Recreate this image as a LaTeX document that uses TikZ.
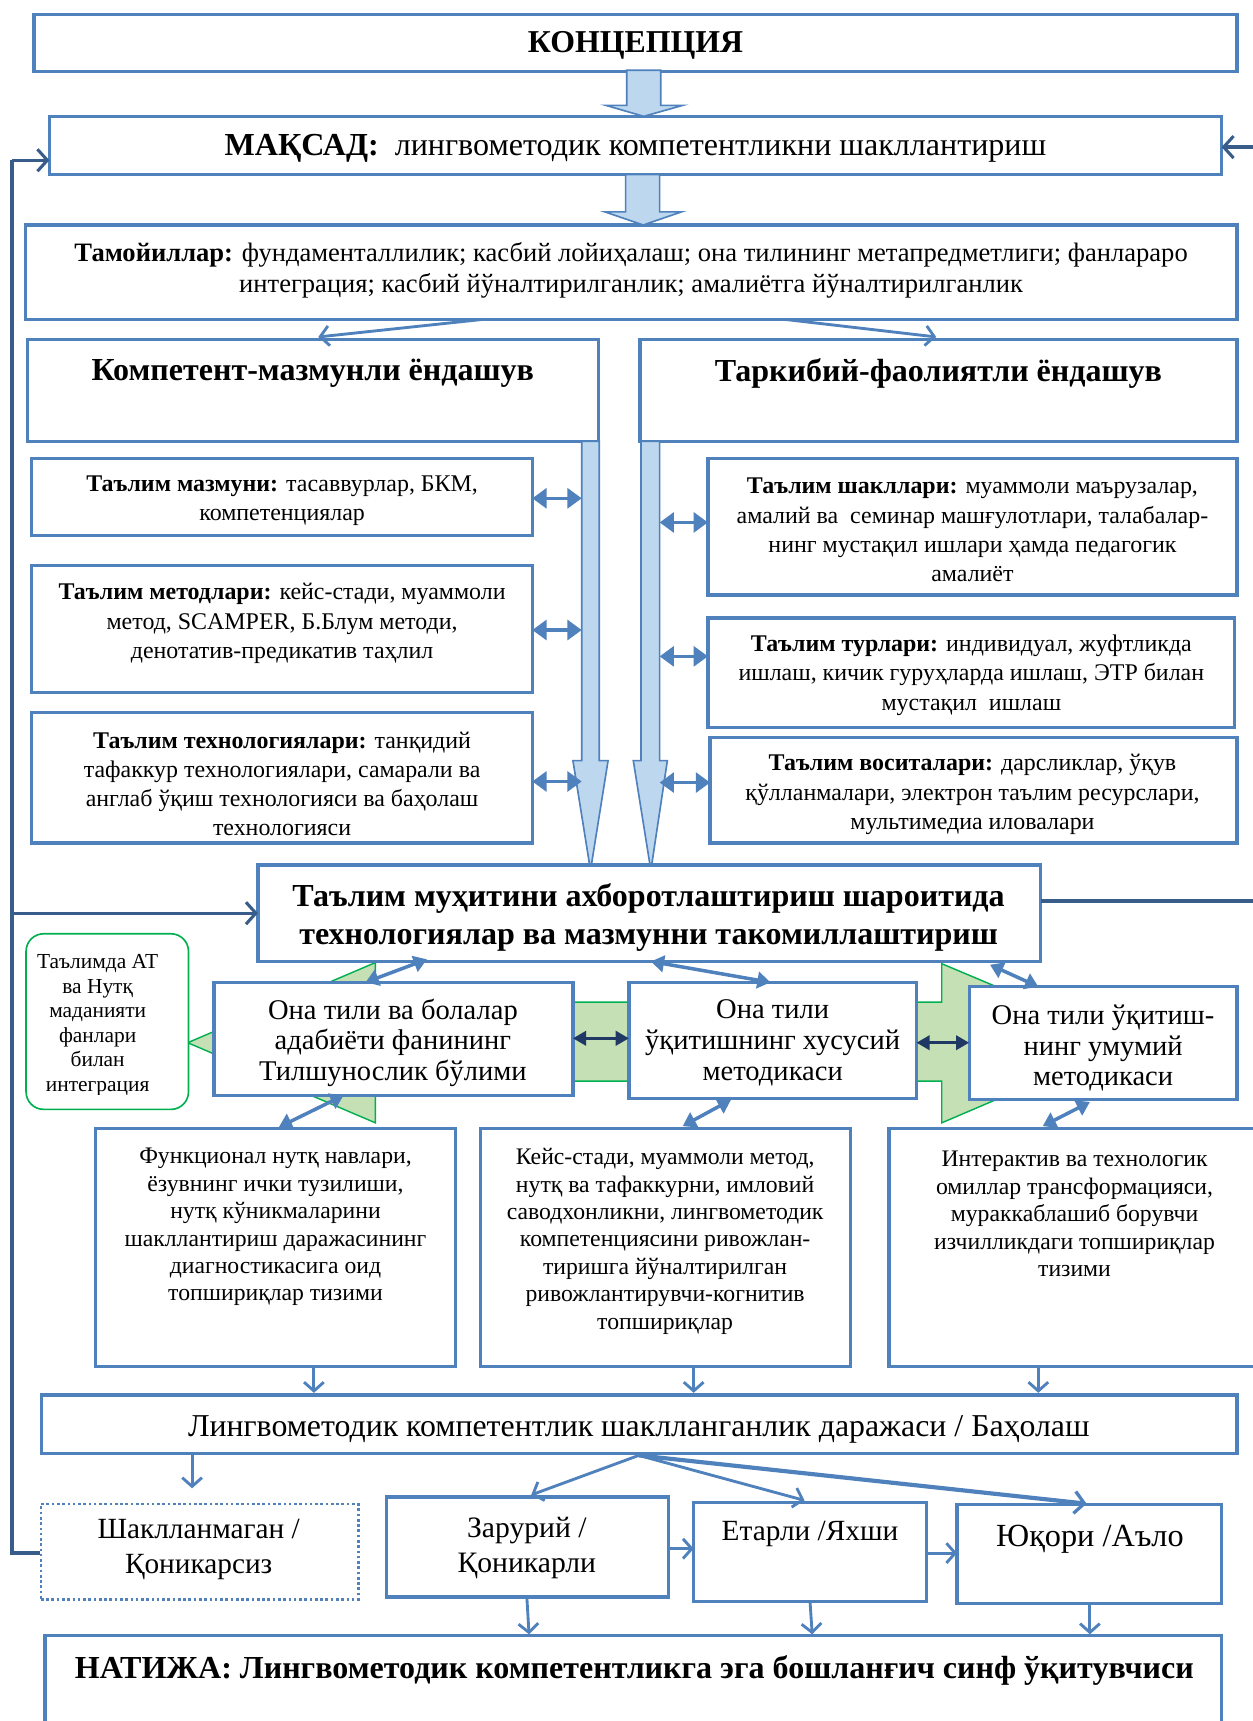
\documentclass[tikz,border=0pt]{standalone}
\usepackage{fontspec}
\setmainfont{Liberation Serif}
\usetikzlibrary{arrows.meta,calc}
\definecolor{bblue}{RGB}{79,129,189}
\definecolor{lblue}{RGB}{189,215,238}
\definecolor{fblue}{RGB}{56,93,138}
\definecolor{navyc}{RGB}{31,56,100}
\definecolor{lgreen}{RGB}{197,224,180}
\definecolor{ggreen}{RGB}{0,176,80}
\newcommand\fs[2]{\fontsize{#1}{#2}\selectfont}
\newcommand\bx[6][]{\node[box,#1,minimum width={(#5)-(#3)},minimum height={(#6)-(#4)}] (#2) at (#3,#4) {};}
\begin{document}
\begin{tikzpicture}[x=1pt,y=-1pt,line join=miter,
  box/.style={draw=bblue,line width=3pt,fill=white,inner sep=0pt,outer sep=0pt,anchor=north west},
  txt/.style={inner sep=0pt,align=center,text=black},
  barrow/.style={fill=lblue,draw=bblue,line width=1.5pt},
  thinar/.style={draw=bblue,line width=2.6pt,-{Straight Barb[length=8pt,width=18pt,line width=2.6pt]}},
  thickar/.style={draw=bblue,line width=3.8pt,-{Straight Barb[length=9pt,width=20pt,line width=3pt]}},
  dbl/.style={draw=bblue,line width=3.2pt,{Triangle[length=13pt,width=18pt]}-{Triangle[length=13pt,width=18pt]}},
  dbld/.style={draw=bblue,line width=3.2pt,{Triangle[length=12pt,width=15pt]}-{Triangle[length=12pt,width=15pt]}},
  dbln/.style={draw=navyc,line width=2.8pt,{Triangle[length=12pt,width=13pt]}-{Triangle[length=12pt,width=13pt]}},
  fb/.style={draw=fblue,line width=3pt},
  fbar/.style={draw=fblue,line width=3pt,-{Straight Barb[length=9pt,width=20pt,line width=2.8pt]}}
]
\useasboundingbox (0,0) rectangle (1141,1568);
\fill[white] (0,0) rectangle (1141,1568);

% green double block arrow (background)
\filldraw[fill=lgreen,draw=ggreen,line width=1.3pt] (171,950) -- (342,877) -- (342,913) -- (858,913) -- (858,878) -- (1029,950) -- (858,1023) -- (858,985) -- (342,985) -- (342,1023) -- cycle;

% top boxes
\bx{konc}{31}{13}{1127}{65}
\node[txt,font=\fs{29}{32}\bfseries] (konct) at (579,41) {КОНЦЕПЦИЯ};
\bx{maqs}{45}{106}{1113}{159}
\node[txt,font=\fs{29.2}{32}] (maqst) at (579,135) {\textbf{МАҚСАД:}\ \ лингвометодик компетентликни шакллантириш};
\bx{tam}{23}{205}{1127}{291}
\node[txt,font=\fs{24.2}{28}] (tamt) at (575,246) {\textbf{Тамойиллар:} фундаменталлилик; касбий лойиҳалаш; она тилининг метапредметлиги; фанлараро\\интеграция; касбий йўналтирилганлик; амалиётга йўналтирилганлик};

\filldraw[barrow] (571,64) -- (602,64) -- (602,96) -- (622,96) -- (586.5,106) -- (552,96) -- (571,96) -- cycle;
\filldraw[barrow] (570,159) -- (601,159) -- (601,193) -- (621,193) -- (586,205) -- (551,193) -- (570,193) -- cycle;

% approaches
\bx{komp}{25}{309}{545}{402}
\node[txt,font=\fs{29.2}{32}\bfseries] (kompt) at (285,340) {Компетент-мазмунли ёндашув};
\bx{tark}{583}{309}{1127}{402}
\node[txt,font=\fs{29.2}{32}\bfseries] (tarkt) at (855,340) {Таркибий-фаолиятли ёндашув};
\draw[thinar] ($(tam.south)+(-135,0)$) -- ($(komp.north)+(5,-2)$);
\draw[thinar] ($(tam.south)+(140,0)$) -- ($(tark.north)+(-2,-2)$);

% left sub boxes
\bx{mazm}{29}{418}{485}{488}
\node[txt,font=\fs{21.8}{26.5}] (mazmt) at (257,456) {\textbf{Таълим мазмуни:} тасаввурлар, БКМ,\\компетенциялар};
\bx{metd}{29}{515}{485}{631}
\node[txt,font=\fs{21.8}{26.5}] (metdt) at (257,568) {\textbf{Таълим методлари:} кейс-стади, муаммоли\\метод, SCAMPER, Б.Блум методи,\\денотатив-предикатив таҳлил};
\bx{tech}{29}{649}{485}{768}
\begin{scope}
\clip (31,651) rectangle (483,766.5);
\node[txt,font=\fs{21.8}{26.5}] (techt) at (257,714) {\textbf{Таълим технологиялари:} танқидий\\тафаккур технологиялари, самарали ва\\англаб ўқиш технологияси ва баҳолаш\\технологияси};
\end{scope}

% right sub boxes
\bx{shak}{645}{418}{1127}{542}
\node[txt,font=\fs{21.8}{26.7}] (shakt) at (886,483) {\textbf{Таълим шакллари:} муаммоли маърузалар,\\амалий ва\ \ семинар машғулотлари, талабалар-\\нинг мустақил ишлари ҳамда педагогик\\амалиёт};
\bx{turl}{645}{563}{1125}{663}
\node[txt,font=\fs{21.8}{26.7}] (turlt) at (885,615) {\textbf{Таълим турлари:} индивидуал, жуфтликда\\ишлаш, кичик гуруҳларда ишлаш, ЭТР билан\\мустақил\ \ ишлаш};
\bx{vosi}{647}{672}{1127}{768}
\begin{scope}
\clip (649,674) rectangle (1125,766.5);
\node[txt,font=\fs{21.8}{26.7}] (vosit) at (886,724) {\textbf{Таълим воситалари:} дарсликлар, ўқув\\қўлланмалари, электрон таълим ресурслари,\\мультимедиа иловалари};
\end{scope}

% long block arrows
\filldraw[barrow] (530,402) -- (546,402) -- (546,693) -- (554,693) -- (538,793) -- (522,693) -- (530,693) -- cycle;
\filldraw[barrow] (584,402) -- (601,402) -- (601,693) -- (608,693) -- (593,793) -- (577,693) -- (584,693) -- cycle;

% side double arrows
\draw[dbl] (mazm.east |- 0,454) -- (530,454);
\draw[dbl] (metd.east |- 0,574) -- (530,574);
\draw[dbl] (tech.east |- 0,712) -- (530,712);
\draw[dbl] (601,476) -- (shak.west |- 0,476);
\draw[dbl] (601,598) -- (turl.west |- 0,598);
\draw[dbl] (601,713) -- (vosi.west |- 0,713);

% central box
\bx{cent}{235}{788}{948}{876}
\node[txt,font=\fs{29.2}{34}\bfseries] (centt) at (591,836) {Таълим муҳитини ахборотлаштириш шароитида\\технологиялар ва мазмунни такомиллаштириш};

% green rounded box
\node[draw=ggreen,line width=1.5pt,fill=white,rounded corners=16pt,inner sep=0pt,anchor=north west,minimum width=148pt,minimum height=160pt] (grn) at (23,850) {};
\begin{scope}
\clip (25,852) rectangle (169,997);
\node[txt,font=\fs{19.5}{22.3}] (grnt) at (89,934) {Таълимда АТ\\ва Нутқ\\маданияти\\фанлари\\билан\\интеграция};
\end{scope}

% middle boxes
\bx{onaa}{195}{895}{522}{998}
\node[txt,font=\fs{26}{28}] (onaat) at (358,950) {Она тили ва болалар\\адабиёти фанининг\\Тилшунослик бўлими};
\bx{onab}{573}{895}{835}{1001}
\node[txt,font=\fs{26}{28}] (onabt) at (704,950) {Она тили\\ўқитишнинг хусусий\\методикаси};
\bx{onac}{883}{899}{1127}{1002}
\node[txt,font=\fs{26}{28}] (onact) at (1005,955) {Она тили ўқитиш-\\нинг умумий\\методикаси};
\draw[dbln] (onaa.east |- 0,946) -- (onab.west |- 0,946);
\draw[dbln] (onab.east |- 0,950) -- (onac.west |- 0,950);
\draw[dbld] (389,874) -- (333,895);
\draw[dbld] (593,876) -- (702,895);
\draw[dbld] (902,879) -- (946,899);

% bottom text boxes
\bx{funk}{87}{1028}{415}{1245}
\node[txt,font=\fs{21.6}{25}] (funkt) at (251,1118) {Функционал нутқ навлари,\\ёзувнинг ички тузилиши,\\нутқ кўникмаларини\\шакллантириш даражасининг\\диагностикасига оид\\топшириқлар тизими};
\bx{keys}{438}{1028}{775}{1245}
\node[txt,font=\fs{21.6}{25}] (keyst) at (606,1131) {Кейс-стади, муаммоли метод,\\нутқ ва тафаккурни, имловий\\саводхонликни, лингвометодик\\компетенциясини ривожлан-\\тиришга йўналтирилган\\ривожлантирувчи-когнитив\\топшириқлар};
\bx{inte}{810}{1028}{1160}{1245}
\node[txt,font=\fs{21.6}{25}] (intet) at (979,1106) {Интерактив ва технологик\\омиллар трансформацияси,\\мураккаблашиб борувчи\\изчилликдаги топшириқлар\\тизими};
\draw[dbld] (313,998) -- (254,1027);
\draw[dbld] (666,1002) -- (622,1026);
\draw[dbld] (993,1004) -- (950,1026);

% assessment
\bx{ling}{38}{1271}{1127}{1324}
\node[txt,font=\fs{29}{32}] (lingt) at (582,1302) {Лингвометодик компетентлик шаклланганлик даражаси / Баҳолаш};
\draw[thinar] (286,1245) -- (286,1269);
\draw[thinar] (632,1245) -- (632,1269);
\draw[thinar] (946,1245) -- (946,1269);

% levels
\node[draw=bblue,line width=2.6pt,dash pattern=on 2.4pt off 2.4pt,fill=white,inner sep=0pt,anchor=north west,minimum width=289pt,minimum height=87pt] (shkm) at (36,1369) {};
\node[txt,font=\fs{26.7}{32}] (shkmt) at (181,1412) {Шаклланмаган /\\Қоникарсиз};
\bx{zar}{352}{1364}{609}{1455}
\node[txt,font=\fs{27}{32}] (zart) at (480,1410) {Зарурий /\\Қоникарли};
\bx{eta}{632}{1369}{844}{1459}
\node[txt,font=\fs{26.7}{32}] (etat) at (738,1398) {Етарли /Яхши};
\bx{yuq}{872}{1371}{1113}{1461}
\node[txt,font=\fs{29.4}{32}] (yuqt) at (993,1402) {Юқори /Аъло};

\coordinate (lsrc) at (582,1326);
\draw[thinar] (175,1326) -- (175,1356);
\draw[thinar] (lsrc) -- (484,1362);
\draw[thinar] (lsrc) -- (733,1367);
\draw[thickar] (lsrc) -- (990,1370);
\draw[thinar] (zar.east |- 0,1411) -- (eta.west |- 0,1411);
\draw[thinar] (eta.east |- 0,1415) -- (yuq.west |- 0,1415);

% result
\bx{nat}{41}{1490}{1113}{1600}
\node[txt,font=\fs{29.2}{32}\bfseries] (natt) at (578,1522) {НАТИЖА: Лингвометодик компетентликга эга бошланғич синф ўқитувчиси};
\draw[thinar] (480,1455) -- (482,1489);
\draw[thinar] (738,1459) -- (740,1489);
\draw[thinar] (993,1461) -- (993,1489);

% feedback lines
\coordinate (fbtop) at (11,146);
\coordinate (fbmid) at (11,832);
\coordinate (fbbot) at (11,1415);
\draw[fb] (shkm.west |- fbbot) -- (fbbot) -- (fbtop);
\draw[fbar] (fbtop) -- (maqs.west |- fbtop);
\draw[fbar] (fbmid) -- (cent.west |- fbmid);
\coordinate (rfa) at (1150,821);
\coordinate (rfb) at (1150,134);
\draw[fb] (cent.east |- rfa) -- (rfa);
\draw[fbar] (rfb) -- (maqs.east |- rfb);
\end{tikzpicture}
\end{document}
